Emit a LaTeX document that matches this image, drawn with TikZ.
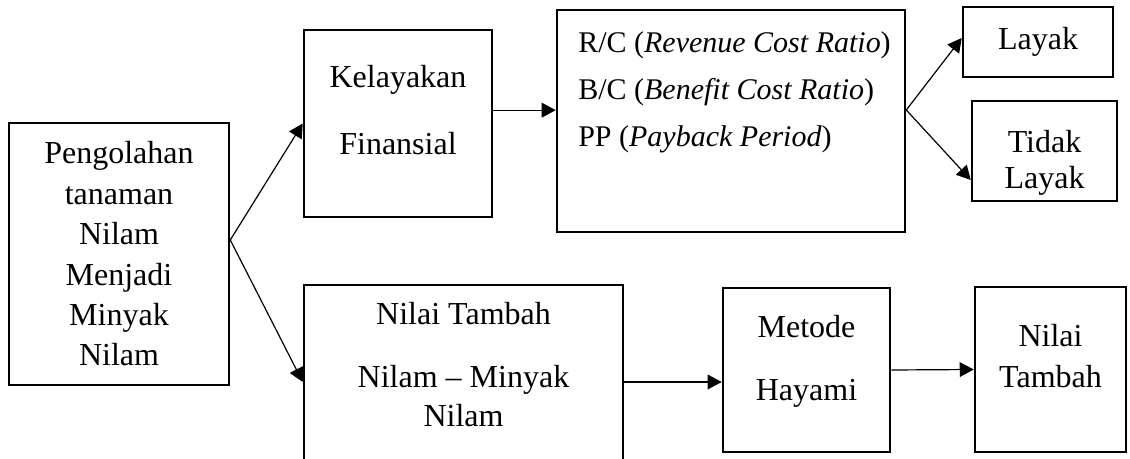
\documentclass[tikz,border=0pt]{standalone}
\usepackage{fontspec}
\setmainfont{Liberation Serif}
\usetikzlibrary{arrows.meta,positioning}

\tikzset{
  >={Triangle[length=10.5pt,width=11pt]},
  box/.style={draw=black,line width=1.9pt,inner sep=0pt,align=center,
              font=\fontsize{24}{30.3}\selectfont},
  txt/.style={inner sep=0pt,align=center,font=\fontsize{24}{30}\selectfont},
  flow/.style={->,line width=0.9pt},
}

\begin{document}
\begin{tikzpicture}[x=0.75pt,y=-0.75pt]
\clip (0,0) rectangle (1130,459);

% Left column: the processing step
\node[box,minimum width=165pt,minimum height=196.5pt] (proc) at (119,254)
  {Pengolahan\\tanaman\\Nilam\\Menjadi\\Minyak\\Nilam};

% Upper branch: financial feasibility
\node[box,minimum width=141pt,minimum height=140.25pt] (kel) at (398,123.5) {};
\node[txt] (kelText) at (398,110.5) {Kelayakan\\[20.25pt]Finansial};

\node[box,minimum width=261pt,minimum height=166.5pt] (rc) at (731,121) {};
\node[txt,align=left,anchor=west,font=\fontsize{22.5}{35.25}\selectfont]
  (rcText) at (578,92.5)
  {R/C (\textit{Revenue Cost Ratio})\\B/C (\textit{Benefit Cost Ratio})\\PP (\textit{Payback Period})};

\node[box,minimum width=112.5pt,minimum height=52.5pt] (layak) at (1038,42) {Layak};
\node[box,minimum width=108.75pt,minimum height=75pt] (tidak) at (1044.5,151) {};
\node[txt,font=\fontsize{24}{27}\selectfont] (tidakText) at (1044.5,163) {Tidak\\Layak};

% Lower branch: value added
\node[box,minimum width=239.25pt,minimum height=145.5pt] (nilai) at (463.5,382) {};
\node[txt,font=\fontsize{24}{29.25}\selectfont] (nilaiText) at (463.5,365)
  {Nilai Tambah\\[18pt]Nilam – Minyak\\Nilam};

\node[box,minimum width=125.25pt,minimum height=123pt] (metode) at (806.5,370) {};
\node[txt,font=\fontsize{24}{47.25}\selectfont] (metodeText) at (806.5,361) {Metode\\Hayami};

\node[box,minimum width=113.25pt,minimum height=123.75pt] (tambah) at (1050.5,369.5) {};
\node[txt,font=\fontsize{24}{30.75}\selectfont] (tambahText) at (1050.5,356.5) {Nilai\\Tambah};

% connectors
\coordinate (fork) at ([yshift=10.5pt]proc.east);
\draw[flow] (fork) -- (kel.west);
\draw[flow] (fork) -- (nilai.west);
\draw[flow] ([yshift=10pt]kel.east) -- ([yshift=10pt]kel.east -| rc.west);

\coordinate (split) at ([yshift=8.25pt]rc.east);
\draw[flow] (split) -- ([yshift=3pt]layak.west);
\draw[flow] (split) -- ([yshift=-21.75pt]tidak.west);

\draw[flow] (nilai.east) -- (nilai.east -| metode.west);
\draw[flow] (metode.east) -- (tambah.west);

\end{tikzpicture}
\end{document}
